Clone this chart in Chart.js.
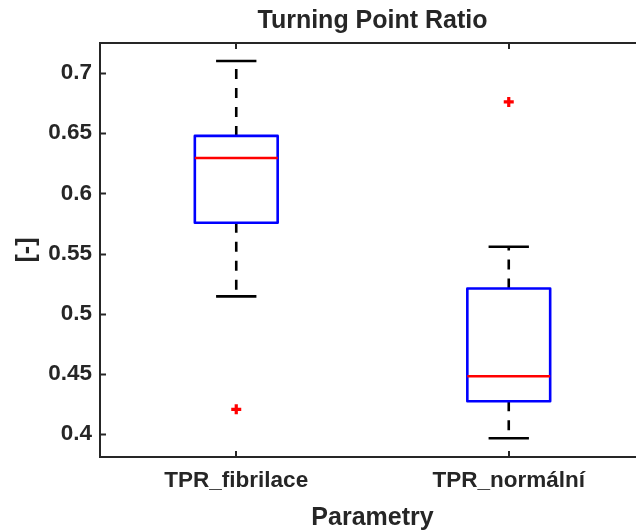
<!DOCTYPE html>
<html>
<head>
<meta charset="utf-8">
<script src="https://cdn.jsdelivr.net/npm/chart.js@4.4.1/dist/chart.umd.min.js"></script>
<style>
  html, body { margin: 0; padding: 0; background: #fff; overflow: hidden; }
  #wrap { width: 745px; height: 530px; }
</style>
</head>
<body>
<div id="wrap"><canvas id="chart" width="745" height="530"></canvas></div>
<script>
// values
const categories = ['TPR_fibrilace', 'TPR_normální'];
const q1 = [0.5756, 0.4273];
const median = [0.6295, 0.4480];
const q3 = [0.6478, 0.5210];
const whiskerLow = [0.5145, 0.3966];
const whiskerHigh = [0.7100, 0.5557];
const outliers = [[0.4206], [0.6760]];
const yTicks = [0.4, 0.45, 0.5, 0.55, 0.6, 0.65, 0.7];

const BOX_HALF = 0.152;
const CAP_HALF = 0.074;
const AXIS_COLOR = '#262626';
const FONT = "'Liberation Sans', Arial, sans-serif";

const gap = x => ({ x: x, y: null });

const boxPts = [], medPts = [], whiskPts = [], capPts = [], outPts = [];
categories.forEach((c, i) => {
    const x = i + 1;
    boxPts.push(
        { x: x - BOX_HALF, y: q1[i] }, { x: x + BOX_HALF, y: q1[i] },
        { x: x + BOX_HALF, y: q3[i] }, { x: x - BOX_HALF, y: q3[i] },
        { x: x - BOX_HALF, y: q1[i] }, gap(x)
    );
    medPts.push({ x: x - BOX_HALF, y: median[i] }, { x: x + BOX_HALF, y: median[i] }, gap(x));
    // whiskers drawn from the box outward
    whiskPts.push({ x: x, y: q3[i] }, { x: x, y: whiskerHigh[i] }, gap(x));
    whiskPts.push({ x: x, y: q1[i] }, { x: x, y: whiskerLow[i] }, gap(x));
    capPts.push({ x: x - CAP_HALF, y: whiskerHigh[i] }, { x: x + CAP_HALF, y: whiskerHigh[i] }, gap(x));
    capPts.push({ x: x - CAP_HALF, y: whiskerLow[i] }, { x: x + CAP_HALF, y: whiskerLow[i] }, gap(x));
    outliers[i].forEach(v => outPts.push({ x: x, y: v }));
});

// top/right frame and inward tick marks, like the matlab axes box
const frame = {
    id: 'frame',
    afterDraw(chart) {
        const { ctx, chartArea: a, scales: { x, y } } = chart;
        ctx.save();
        ctx.strokeStyle = AXIS_COLOR;
        ctx.lineWidth = 2;
        ctx.beginPath();
        ctx.moveTo(a.left - 1, a.top);
        ctx.lineTo(a.right, a.top);
        ctx.lineTo(a.right, a.bottom);
        yTicks.forEach(v => {
            const py = Math.round(y.getPixelForValue(v)) + 0.5;
            ctx.moveTo(a.left, py); ctx.lineTo(a.left + 6, py);
            ctx.moveTo(a.right, py); ctx.lineTo(a.right - 6, py);
        });
        categories.forEach((c, i) => {
            const px = Math.round(x.getPixelForValue(i + 1));
            ctx.moveTo(px, a.bottom); ctx.lineTo(px, a.bottom - 6);
            ctx.moveTo(px, a.top); ctx.lineTo(px, a.top + 6);
        });
        ctx.stroke();
        ctx.restore();
    }
};

const lineSet = (data, color, width, dash) => ({
    data: data,
    showLine: true,
    borderColor: color,
    borderWidth: width,
    borderDash: dash || [],
    borderJoinStyle: 'round',
    pointRadius: 0,
    spanGaps: false
});

new Chart(document.getElementById('chart'), {
    type: 'scatter',
    data: {
        datasets: [
            {
                data: outPts,
                showLine: false,
                pointStyle: 'cross',
                pointRadius: 5,
                borderColor: '#ff0000',
                borderWidth: 3.2
            },
            lineSet(medPts, '#ff0000', 2.5),
            lineSet(boxPts, '#0000ff', 2.6),
            lineSet(capPts, '#000000', 2.6),
            lineSet(whiskPts, '#000000', 2.6, [10, 9])
        ]
    },
    options: {
        responsive: false,
        animation: false,
        layout: { padding: { right: 100 } },
        plugins: {
            legend: { display: false },
            tooltip: { enabled: false },
            title: {
                display: true,
                text: 'Turning Point Ratio',
                fullSize: false,
                color: AXIS_COLOR,
                font: { family: FONT, size: 25, weight: 'bold' },
                padding: { top: 6, bottom: 7 }
            }
        },
        scales: {
            x: {
                type: 'linear',
                min: 0.5,
                max: 2.5,
                afterBuildTicks: s => { s.ticks = categories.map((c, i) => ({ value: i + 1 })); },
                afterFit: s => { s.height = 73; },
                grid: { display: false, drawTicks: false },
                border: { display: true, color: AXIS_COLOR, width: 2 },
                ticks: {
                    color: AXIS_COLOR,
                    padding: 10,
                    maxRotation: 0,
                    font: { family: FONT, size: 22.5, weight: 'bold' },
                    callback: v => categories[Math.round(v) - 1]
                },
                title: {
                    display: true,
                    text: 'Parametry',
                    color: AXIS_COLOR,
                    font: { family: FONT, size: 25, weight: 'bold' },
                    padding: { top: 0, bottom: -3 }
                }
            },
            y: {
                min: 0.381,
                max: 0.725,
                afterBuildTicks: s => { s.ticks = yTicks.map(v => ({ value: v })); },
                afterFit: s => { s.width = 100; },
                grid: { display: false, drawTicks: false },
                border: { display: true, color: AXIS_COLOR, width: 2 },
                ticks: {
                    color: AXIS_COLOR,
                    padding: 8,
                    font: { family: FONT, size: 22.5, weight: 'bold' },
                    callback: v => String(Math.round(v * 100) / 100)
                },
                title: {
                    display: true,
                    text: '[-]',
                    color: AXIS_COLOR,
                    font: { family: FONT, size: 25, weight: 'bold' },
                    padding: { top: 12, bottom: 0 }
                }
            }
        }
    },
    plugins: [frame]
});
</script>
</body>
</html>
